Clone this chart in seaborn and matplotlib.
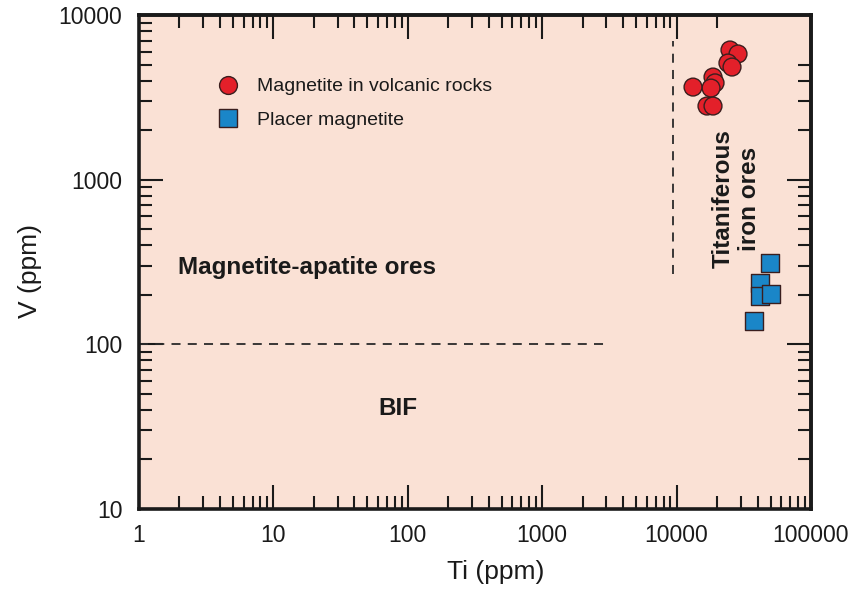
import numpy as np
import pandas as pd
import matplotlib
matplotlib.use("Agg")
import matplotlib.pyplot as plt
import seaborn as sns

# ---- data ----
volcanic_ti = [24960, 28640, 24100, 25840, 18660, 19320, 18040, 13250, 16830, 18660]
volcanic_v = [6130, 5800, 5110, 4830, 4200, 3870, 3600, 3650, 2800, 2800]
placer_ti = [49550, 41780, 41780, 50390, 37670]
placer_v = [312, 236, 196, 202, 139]
series_names = ["Magnetite in volcanic rocks", "Placer magnetite"]

x_major = [1, 10, 100, 1000, 10000, 100000]
x_labels = ["1", "10", "100", "1000", "10000", "100000"]
y_major = [10, 100, 1000, 10000]
y_labels = ["10", "100", "1000", "10000"]

# field boundaries (dashed)
bnd_h_x = [1, 2900]
bnd_h_y = [100, 100]
bnd_v_x = [9400, 9400]
bnd_v_y = [267, 7000]

field_labels = ["Magnetite-apatite ores", "BIF", "Titaniferous\niron ores"]
field_x = [1.95, 85, 28000]
field_y = [291, 41, 764]

df = pd.DataFrame({
    "Ti": volcanic_ti + placer_ti,
    "V": volcanic_v + placer_v,
    "type": [series_names[0]] * len(volcanic_ti) + [series_names[1]] * len(placer_ti),
})

sns.set_theme(style="ticks")
plt.rcParams["font.family"] = ["Liberation Sans", "DejaVu Sans"]

fig = plt.figure(figsize=(8.59, 5.97), dpi=100)
fig.patch.set_facecolor("white")
ax = fig.add_axes([139 / 859, 1 - 509 / 597, 672 / 859, 494 / 597])
ax.set_facecolor("#FAE1D5")

sns.scatterplot(
    data=df, x="Ti", y="V", hue="type", style="type",
    markers={series_names[0]: "o", series_names[1]: "s"},
    palette={series_names[0]: "#E3202A", series_names[1]: "#1A86C8"},
    s=165, edgecolor="#3A1E1E", linewidth=1.0, ax=ax, zorder=3,
)

ax.set_xscale("log")
ax.set_yscale("log")
ax.set_xlim(1, 100000)
ax.set_ylim(10, 10000)

dash = (0, (5, 4))
ax.plot(bnd_h_x, bnd_h_y, color="#2a2a2a", lw=1.3, ls=dash, zorder=2)
ax.plot(bnd_v_x, bnd_v_y, color="#2a2a2a", lw=1.3, ls=dash, zorder=2)

ax.text(field_x[0], field_y[0], field_labels[0], fontsize=17.5, fontweight="bold",
        ha="left", va="center", color="#1a1a1a")
ax.text(field_x[1], field_y[1], field_labels[1], fontsize=17.5, fontweight="bold",
        ha="center", va="center", color="#1a1a1a")
ax.text(field_x[2], field_y[2], field_labels[2], fontsize=17.5, fontweight="bold",
        ha="center", va="center", rotation=90, multialignment="center",
        linespacing=1.2, color="#1a1a1a")

# ticks (bottom / left)
ax.set_xticks(x_major)
ax.set_xticklabels(x_labels)
ax.set_yticks(y_major)
ax.set_yticklabels(y_labels)
minor_x = [m * 10 ** k for k in range(0, 5) for m in range(2, 10)]
minor_y = [m * 10 ** k for k in range(1, 4) for m in range(2, 10)]
ax.set_xticks(minor_x, minor=True)
ax.set_yticks(minor_y, minor=True)
ax.tick_params(which="major", direction="in", length=17, width=1.5, color="#1a1a1a",
               labelsize=16.5, pad=12, top=False, right=False, labelcolor="#1a1a1a")
ax.tick_params(which="minor", direction="in", length=9.5, width=1.5, color="#1a1a1a",
               top=False, right=False)
ax.tick_params(axis="x", which="major", pad=11)

# top / right ticks
top = ax.secondary_xaxis("top")
top.set_xticks([10, 100, 1000, 10000])
top.set_xticks([m * 10 ** k for k in range(0, 4) for m in range(2, 10)] + [20000], minor=True)
top.tick_params(which="major", direction="in", length=17, width=1.5, color="#1a1a1a", labeltop=False)
top.tick_params(which="minor", direction="in", length=9.5, width=1.5, color="#1a1a1a")
top.spines["top"].set_linewidth(2.6)
top.spines["top"].set_color("#1a1a1a")

right = ax.secondary_yaxis("right")
right.set_yticks([100, 1000])
right.set_yticks([m * 10 ** k for k in range(1, 3) for m in range(2, 10)] + [2000, 3000, 4000, 5000], minor=True)
right.tick_params(which="major", direction="in", length=17, width=1.5, color="#1a1a1a", labelright=False)
right.tick_params(which="minor", direction="in", length=9.5, width=1.5, color="#1a1a1a")
right.spines["right"].set_linewidth(2.6)
right.spines["right"].set_color("#1a1a1a")

for sp in ax.spines.values():
    sp.set_linewidth(2.6)
    sp.set_color("#1a1a1a")

ax.set_xlabel("Ti (ppm)", fontsize=19, color="#1a1a1a")
ax.set_ylabel("V (ppm)", fontsize=19, color="#1a1a1a")
ax.xaxis.set_label_coords(0.531, -0.103)
ax.yaxis.set_label_coords(-0.145, 0.482)

h, l = ax.get_legend_handles_labels()
leg = ax.legend(h, l, loc="upper left", bbox_to_anchor=(0.118, 0.873), frameon=False,
                fontsize=14, handlelength=1.0, handletextpad=1.0, labelspacing=0.8,
                borderpad=0, borderaxespad=0)
for t in leg.get_texts():
    t.set_color("#1a1a1a")

fig.savefig("out.png", dpi=100)
